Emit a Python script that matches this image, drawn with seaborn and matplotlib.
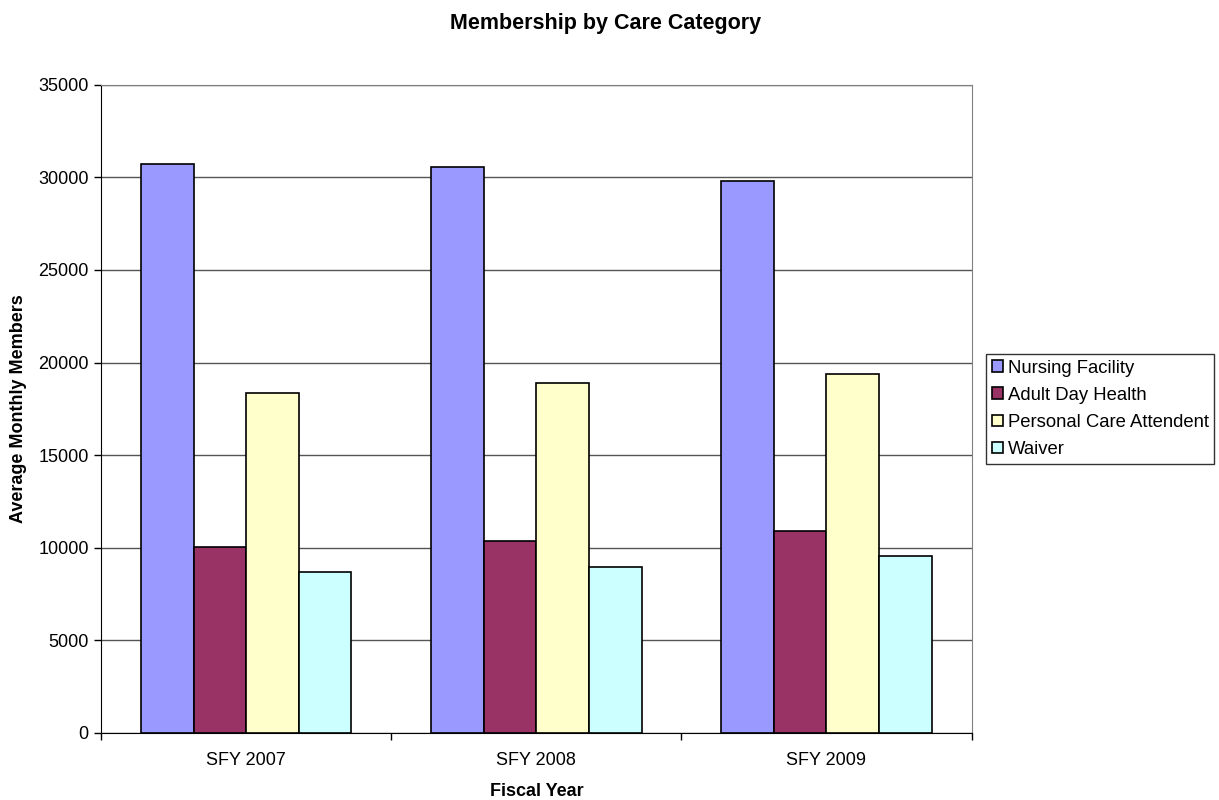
import pandas as pd
import seaborn as sns
import matplotlib.pyplot as plt

# Data
years = ['SFY 2007', 'SFY 2008', 'SFY 2009']
categories = ['Nursing Facility', 'Adult Day Health', 'Personal Care Attendent', 'Waiver']
nursing_facility = [30740, 30540, 29800]
adult_day_health = [10060, 10350, 10910]
personal_care = [18380, 18870, 19390]
waiver = [8710, 8930, 9545]

colors = ['#9999FF', '#993366', '#FFFFCC', '#CCFFFF']

df = pd.DataFrame({
    'year': years * 4,
    'category': [c for c in categories for _ in years],
    'members': nursing_facility + adult_day_health + personal_care + waiver,
})

sns.set_style('white')
plt.rcParams['font.family'] = ['Liberation Sans', 'DejaVu Sans']
plt.rcParams['text.color'] = 'black'
plt.rcParams['axes.labelcolor'] = 'black'
plt.rcParams['xtick.color'] = 'black'
plt.rcParams['ytick.color'] = 'black'

fig = plt.figure(figsize=(12.19, 8.0), dpi=100)
ax = fig.add_axes([0.083, 0.084, 0.714, 0.810])

sns.barplot(data=df, x='year', y='members', hue='category', hue_order=categories,
            palette=colors, width=0.725, edgecolor='black', linewidth=1.2,
            saturation=1, ax=ax, zorder=3)

ax.set_ylim(0, 35000)
ax.set_yticks(range(0, 35001, 5000))
ax.set_xlim(-0.5, 2.5)
ax.yaxis.grid(True, color='#555555', linewidth=1, zorder=0)
ax.set_axisbelow(True)

# category boundary ticks on x axis
ax.set_xticks([0, 1, 2])
ax.set_xticklabels(years, fontsize=13)
ax.tick_params(axis='x', which='major', length=0, pad=14)
ax.set_xticks([-0.5, 0.5, 1.5, 2.5], minor=True)
ax.tick_params(axis='x', which='minor', bottom=True, length=5, width=1,
               color='black', direction='out')
ax.tick_params(axis='y', length=5, width=1, color='black', direction='out',
               labelsize=13, left=True, pad=4)

for side in ['top', 'right']:
    ax.spines[side].set_color('#808080')
for side in ['left', 'bottom']:
    ax.spines[side].set_color('black')

ax.set_xlabel('Fiscal Year', fontsize=13, fontweight='bold', labelpad=10)
ax.set_ylabel('Average Monthly Members', fontsize=13, fontweight='bold', labelpad=8)
fig.suptitle('Membership by Care Category', fontsize=15.5, fontweight='bold',
             x=0.497, y=0.97, va='center')

leg = ax.legend(loc='center left', bbox_to_anchor=(1.017, 0.5), frameon=True,
                fancybox=False, edgecolor='black', fontsize=13.3,
                handlelength=0.6, handleheight=0.6, handletextpad=0.25,
                borderpad=0.3, labelspacing=0.55, borderaxespad=0)
leg.get_frame().set_linewidth(1)

fig.savefig('out.png', dpi=100)
